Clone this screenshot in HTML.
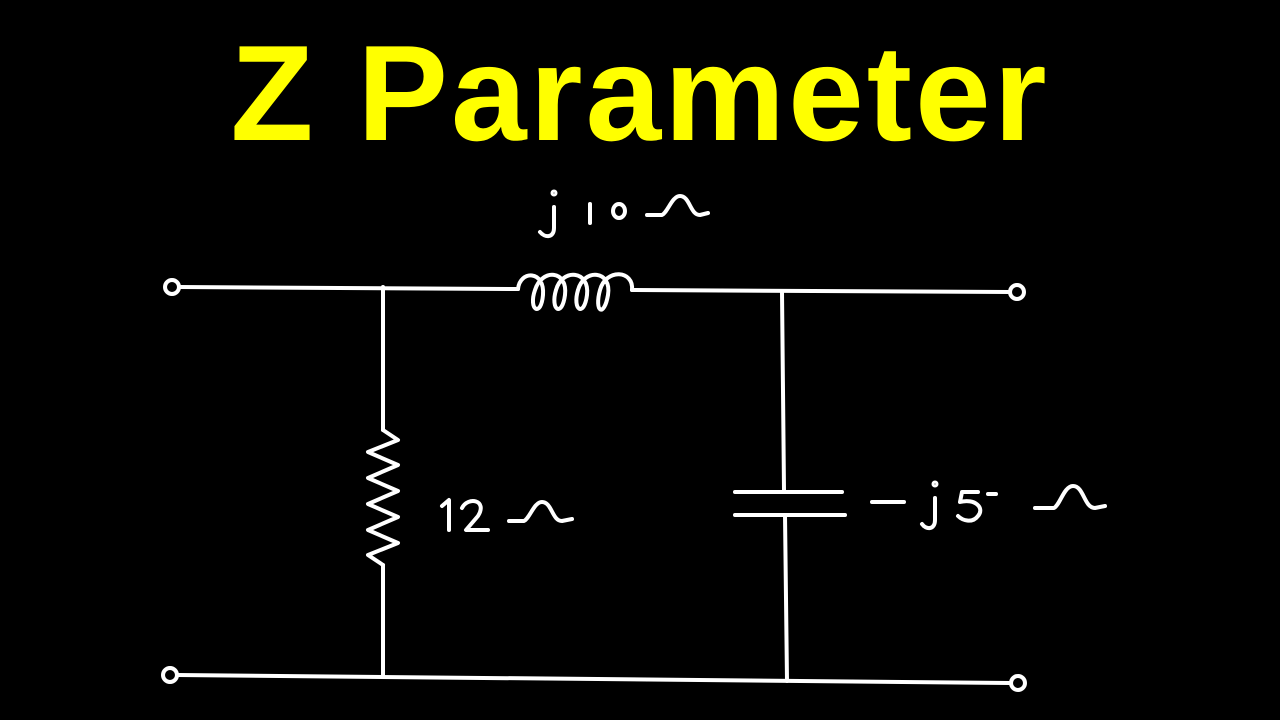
<!DOCTYPE html>
<html><head><meta charset="utf-8"><style>
html,body{margin:0;padding:0;background:#000;}
body{width:1280px;height:720px;overflow:hidden;position:relative;}
.t{position:absolute;left:0;width:1280px;top:18px;text-align:center;color:#ffff00;font-family:"Liberation Sans",sans-serif;font-weight:bold;font-size:136px;letter-spacing:3px;line-height:150px;}
</style></head><body>
<div class="t">Z Parameter</div>
<svg width="1280" height="720" style="position:absolute;left:0;top:0" fill="none" stroke="#fff" stroke-width="4" stroke-linecap="round" stroke-linejoin="round">
<circle cx="172" cy="287" r="7"/>
<line x1="179" y1="287" x2="518" y2="289"/>
<path d="M518 289 C520 270,545 270,543 295 C541 318,528 310,535 290 C542 268,568 270,565 295 C562 318,550 310,556 290 C562 268,590 270,587 295 C584 318,572 310,578 290 C584 268,612 270,608 295 C604 318,594 312,600 290 C606 268,634 270,632 290"/>
<line x1="632" y1="290" x2="1010" y2="292"/>
<circle cx="1017" cy="292" r="7"/>
<circle cx="170" cy="675" r="7"/>
<line x1="177" y1="675" x2="1010" y2="683"/>
<circle cx="1018" cy="683" r="7"/>
<line x1="383" y1="287" x2="383" y2="430"/>
<path d="M383 430 L398 440 L368 452 L398 465 L368 478 L398 491 L368 504 L398 517 L368 530 L398 543 L368 555 L383 565"/>
<line x1="383" y1="565" x2="383" y2="676"/>
<line x1="782" y1="292" x2="784" y2="490"/>
<line x1="735" y1="492" x2="842" y2="492"/>
<line x1="735" y1="515" x2="845" y2="515"/>
<line x1="785" y1="515" x2="787" y2="681"/>
<g stroke-width="4">
<!-- j10 ohm -->
<circle cx="554" cy="193" r="1.5"/>
<path d="M554 207 L554 228 C554 238,545 238,540 232"/>
<line x1="590" y1="204" x2="590" y2="223"/>
<ellipse cx="619" cy="211" rx="6" ry="7"/>
<path d="M647 215 L662 215 C668 212,672 196,680 196 C690 196,690 215,700 215 L708 213"/>
<!-- 12 ohm -->
<path d="M442 506 L449 500 L449 530"/>
<path d="M462 508 C468 496,488 500,478 516 L466 530 L488 530"/>
<path d="M509 521 L524 521 C530 518,534 502,542 502 C552 502,552 521,562 521 L572 519"/>
<!-- -j5 ohm -->
<line x1="872" y1="502" x2="904" y2="502"/>
<circle cx="935" cy="484" r="1.5"/>
<path d="M935 498 L935 520 C935 530,926 530,922 524"/>
<path d="M978 492 L962 492 L960 502 C975 498,985 508,978 516 C972 524,962 520,958 516"/>
<path d="M988 494 L996 494"/>
<path d="M1035 508 L1054 508 C1060 505,1064 486,1073 486 C1084 486,1084 508,1095 508 L1105 506"/>
</g>
</svg>
</body></html>
